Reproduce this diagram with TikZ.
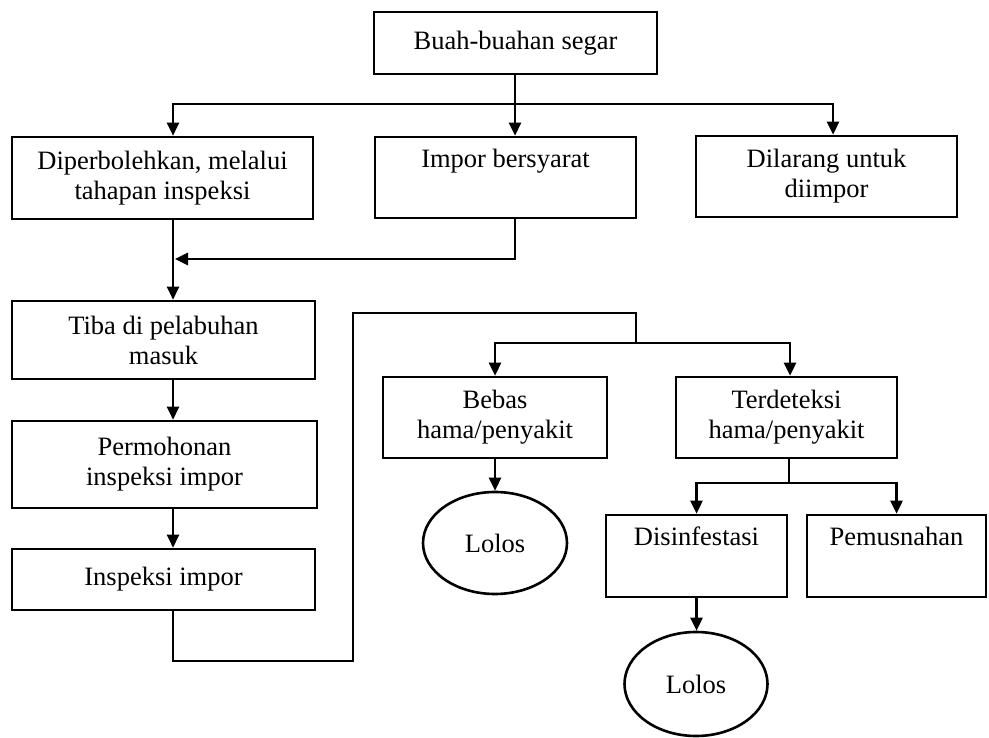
\documentclass[tikz,border=0pt]{standalone}
\usepackage{fontspec}
\setmainfont{Liberation Serif}
\usetikzlibrary{arrows.meta,shapes.geometric}
\begin{document}
\begin{tikzpicture}[x=1pt,y=-1pt,
  box/.style={draw,line width=2.6pt,rectangle,inner sep=0pt,align=center,font=\fontsize{26.5}{30}\selectfont},
  oval/.style={draw,line width=2.6pt,ellipse,inner sep=0pt,font=\fontsize{26.5}{30}\selectfont},
  conn/.style={line width=2.6pt},
  arr/.style={line width=2.6pt,-{Triangle[length=13pt,width=12pt]}}]
\useasboundingbox[fill=white] (0,0) rectangle (989,738);

% boxes
\node[box,minimum width=283pt,minimum height=62pt] (top) at (515.5,43) {Buah-buahan segar};
\node[box,minimum width=301pt,minimum height=82pt] (dip) at (162.5,178) {Diperbolehkan, melalui\\tahapan inspeksi};
\node[box,minimum width=261pt,minimum height=81pt] (imp) at (505.5,177.5) {Impor bersyarat\\\strut};
\node[box,minimum width=261pt,minimum height=81pt] (dil) at (826.5,176.5) {Dilarang untuk\\diimpor};
\node[box,minimum width=303pt,minimum height=78pt] (tiba) at (163.5,340) {Tiba di pelabuhan\\masuk};
\node[box,minimum width=305pt,minimum height=87pt] (perm) at (164.5,464.5) {Permohonan\\inspeksi impor};
\node[box,minimum width=303pt,minimum height=61pt] (insp) at (163.5,579.5) {Inspeksi impor};
\node[box,minimum width=224pt,minimum height=81pt] (bebas) at (495,417.5) {Bebas\\hama/penyakit};
\node[box,minimum width=221pt,minimum height=81pt] (terd) at (786.5,417.5) {Terdeteksi\\hama/penyakit};
\node[oval,minimum width=144pt,minimum height=102pt] (lolosA) at (495,543) {Lolos};
\node[box,minimum width=181pt,minimum height=82pt] (disin) at (696.5,556) {Disinfestasi\\\strut};
\node[box,minimum width=179pt,minimum height=82pt] (pemus) at (896.5,556) {Pemusnahan\\\strut};
\node[oval,minimum width=143pt,minimum height=104pt] (lolosB) at (696,684) {Lolos};

% helper coordinates
\coordinate (jt) at (515,104);
\coordinate (xL) at (173,0);
\coordinate (xR) at (833,0);
\coordinate (jm) at (175,259);
\coordinate (b2) at (353,661);
\coordinate (b4) at (636,313);
\coordinate (jb) at (636,343);
\coordinate (xT) at (790,0);
\coordinate (jd) at (789,483);

% connectors
\draw[conn] (top.south -| jt) -- (jt);
\draw[arr] (jt) -- (jt |- imp.north);
\draw[arr] (jt) -| (xL |- dip.north);
\draw[arr] (jt) -| (xR |- dil.north);
\draw[arr] (xL |- dip.south) -- (xL |- tiba.north);
\draw[arr] (jt |- imp.south) |- (jm);
\draw[arr] (xL |- tiba.south) -- (xL |- perm.north);
\draw[arr] (xL |- perm.south) -- (xL |- insp.north);
\draw[conn] (xL |- insp.south) |- (b2) |- (b4) -- (jb);
\draw[arr] (jb) -| (bebas.north);
\draw[arr] (jb) -| (xT |- terd.north);
\draw[arr] (bebas.south) -- (lolosA.north);
\draw[conn] (jd |- terd.south) -- (jd);
\draw[arr] (jd) -| (disin.north);
\draw[arr] (jd) -| (pemus.north);
\draw[arr] (disin.south) -- (disin.south |- lolosB.north);
\end{tikzpicture}
\end{document}
